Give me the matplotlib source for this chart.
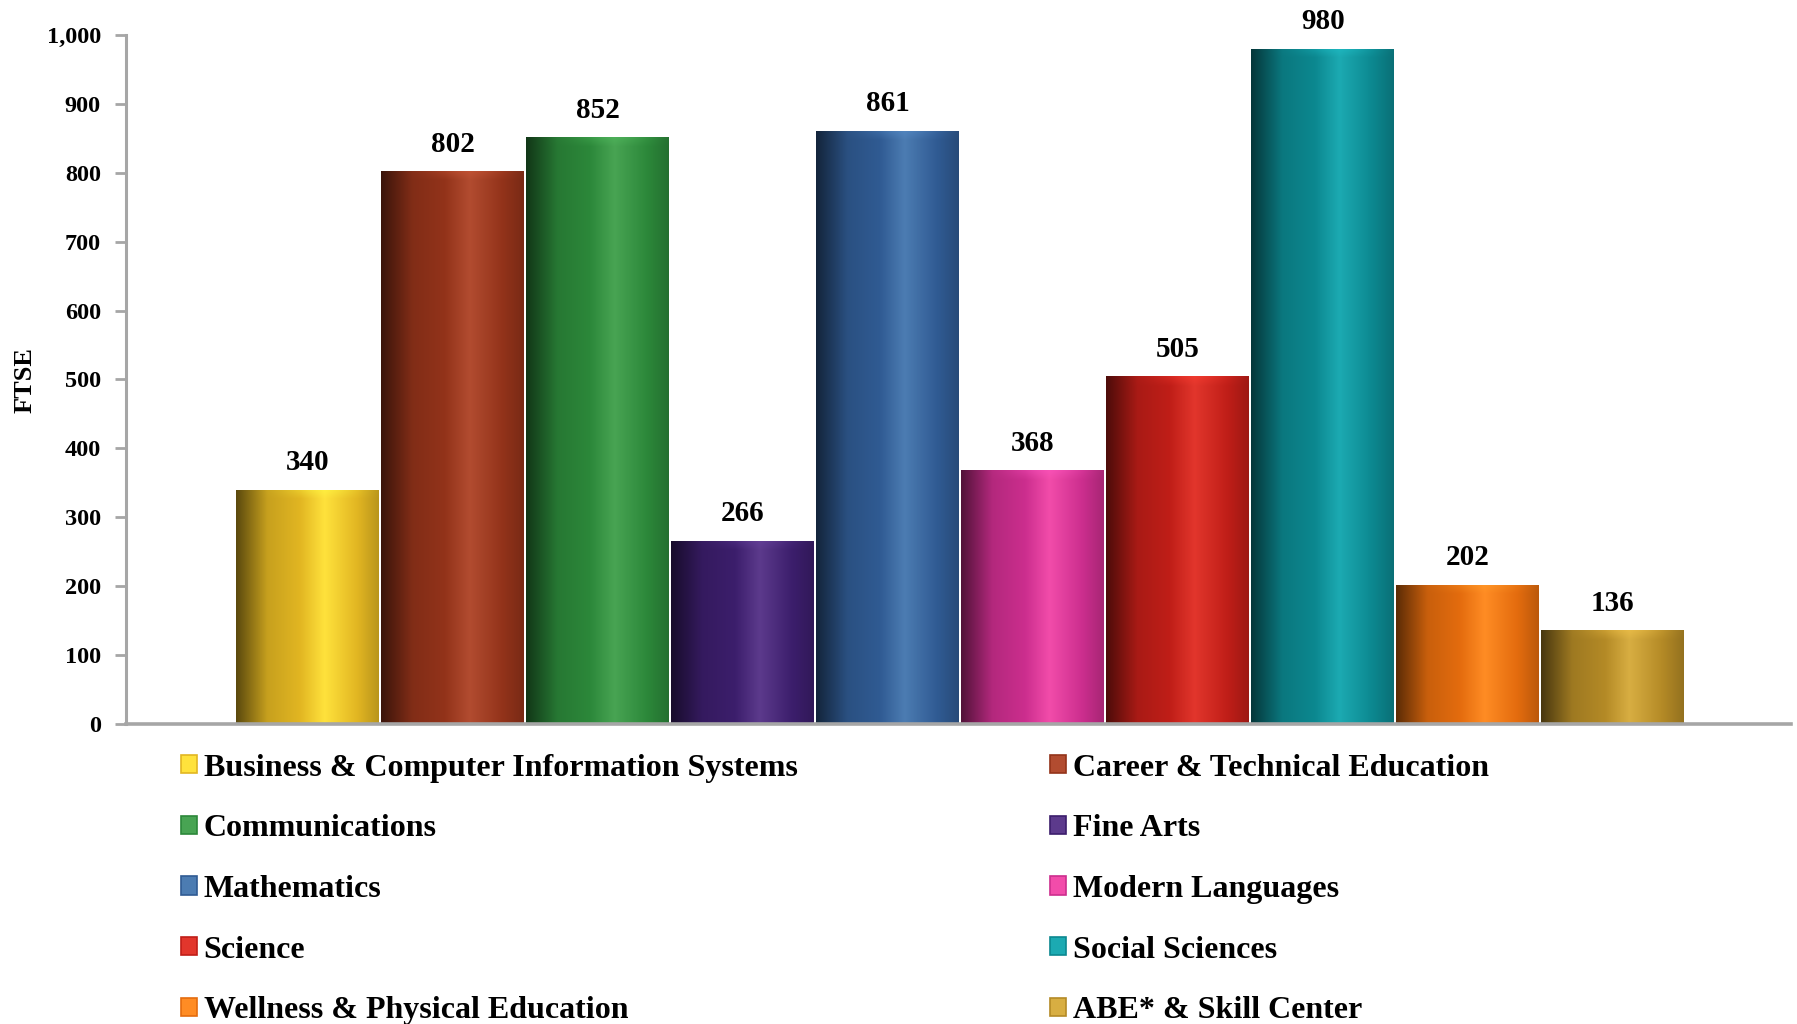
import numpy as np
import matplotlib
matplotlib.use("Agg")
import matplotlib.pyplot as plt
from matplotlib.patches import Patch
from matplotlib.colors import to_rgb
from matplotlib.ticker import FuncFormatter

departments = [
    "Business & Computer Information Systems",
    "Career & Technical Education",
    "Communications",
    "Fine Arts",
    "Mathematics",
    "Modern Languages",
    "Science",
    "Social Sciences",
    "Wellness & Physical Education",
    "ABE* & Skill Center",
]
ftse = [340, 802, 852, 266, 861, 368, 505, 980, 202, 136]

# base / highlight colours of each cylinder
base_colors = ["#E2B622", "#93331A", "#2C883A", "#3C1E6C", "#305B93",
               "#CC2E8E", "#C01E18", "#0C8890", "#E46C0E", "#B48A26"]
light_colors = ["#FFE23C", "#B24C30", "#48A453", "#5C3A8C", "#4C7CB2",
                "#F24CAA", "#E2362C", "#1CAAB2", "#FF8C24", "#D8AE42"]

plt.rcParams["font.family"] = ["Liberation Serif", "DejaVu Serif"]
plt.rcParams["font.weight"] = "bold"

fig = plt.figure(figsize=(17.97, 10.24), dpi=100)
ax = fig.add_axes([0.0701, 0.293, 0.9266, 0.6728])

x = np.arange(len(departments))
bars = ax.bar(x, ftse, width=0.985, color="none", edgecolor="none")


def cylinder_image(base, light, n_cols=240, n_rows=400, top_frac=0.02):
    b = np.array(to_rgb(base))
    l = np.array(to_rgb(light))
    dark = b * 0.4
    t = np.linspace(0, 1, n_cols)
    stops = [0.0, 0.22, 0.45, 0.62, 0.85, 1.0]
    cols = [dark, b * 0.88, b * 1.0, l, b, b * 0.82]
    row = np.zeros((n_cols, 3))
    for c in range(3):
        row[:, c] = np.interp(t, stops, [cc[c] for cc in cols])
    img = np.tile(row, (n_rows, 1, 1))
    # light rim at top of the cylinder
    n_top = max(2, int(n_rows * top_frac))
    glow = np.exp(-((t - 0.6) / 0.25) ** 2)
    for k in range(n_top):
        w = (1 - k / n_top) * 0.45
        img[k] = img[k] * (1 - w * glow[:, None]) + np.clip(l * 1.15, 0, 1) * w * glow[:, None]
    return np.clip(img, 0, 1)


for rect, bc, lc in zip(bars, base_colors, light_colors):
    x0 = rect.get_x()
    w = rect.get_width()
    h = rect.get_height()
    img = cylinder_image(bc, lc, top_frac=14.0 / max(h, 1))
    im = ax.imshow(img, extent=(x0, x0 + w, 0, h), aspect="auto",
                   interpolation="bilinear", zorder=2, origin="upper")
    im.set_clip_path(rect)

for rect, v in zip(bars, ftse):
    ax.annotate(f"{v:,}", (rect.get_x() + rect.get_width() / 2, v),
                xytext=(0, 14), textcoords="offset points",
                ha="center", va="baseline", fontsize=21, fontweight="bold")

ax.set_xlim(-1.252, 10.23)
ax.set_ylim(0, 1000)
ax.set_yticks(np.arange(0, 1001, 100))
ax.yaxis.set_major_formatter(FuncFormatter(lambda v, p: f"{int(v):,}"))
ax.set_xticks([])
ax.tick_params(axis="y", length=8, width=2, color="#A6A6A6", pad=10,
               labelsize=17.5)
for s in ["top", "right"]:
    ax.spines[s].set_visible(False)
ax.spines["left"].set_color("#A6A6A6")
ax.spines["left"].set_linewidth(2.2)
ax.spines["bottom"].set_color("#A6A6A6")
ax.spines["bottom"].set_linewidth(2.6)

fig.text(25 / 1797, 1 - 380 / 1024, "FTSE", rotation=90, ha="center",
         va="center", fontsize=19, fontweight="bold")

handles = [Patch(facecolor=lc, edgecolor=bc, linewidth=1.2)
           for bc, lc in zip(base_colors, light_colors)]
order = [0, 2, 4, 6, 8, 1, 3, 5, 7, 9]
fig.legend([handles[i] for i in order], [departments[i] for i in order],
           ncol=2, loc="upper left", bbox_to_anchor=(0.1005, 0.264),
           frameon=False, borderpad=0, borderaxespad=0,
           prop={"size": 23, "weight": "bold"},
           handlelength=0.5, handleheight=0.5, handletextpad=0.22,
           labelspacing=0.99, columnspacing=7.9)

fig.savefig("out.png", dpi=100)
